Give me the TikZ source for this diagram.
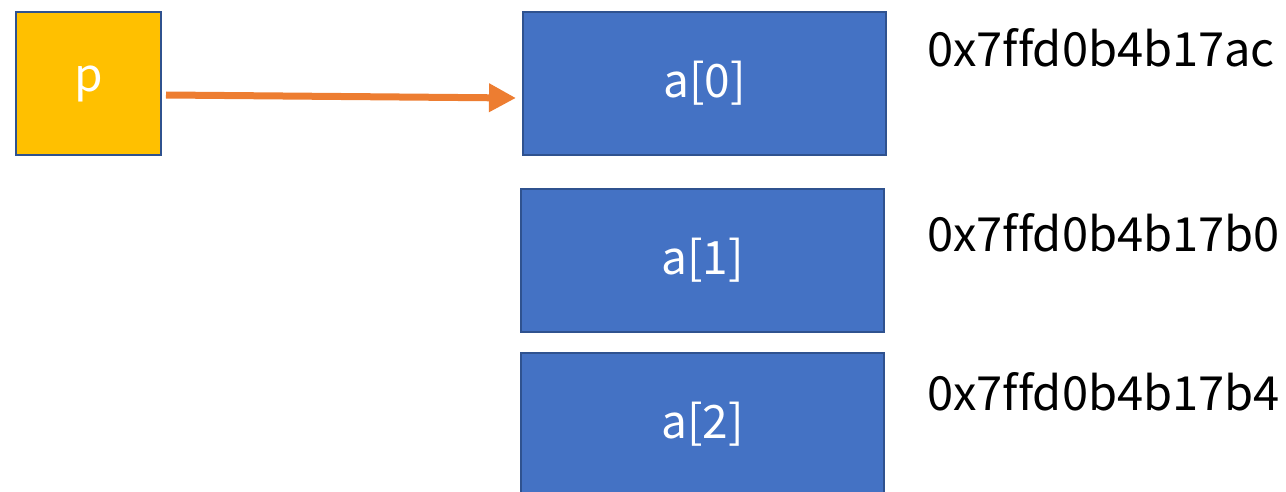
\documentclass[tikz,border=0pt]{standalone}
\usepackage{fontspec}
\setmainfont[Ligatures=NoCommon]{Noto Sans CJK JP}
\usetikzlibrary{arrows.meta}
\definecolor{cellblue}{HTML}{4472C4}
\definecolor{edgeblue}{HTML}{2F528F}
\definecolor{ptrgold}{HTML}{FFC000}
\definecolor{ptrorange}{HTML}{ED7D31}
\tikzset{
  cell/.style={draw=edgeblue, line width=2pt, fill=cellblue, text=white,
    minimum width=363pt, minimum height=143pt, inner sep=0pt,
    font=\fontsize{46}{46}\selectfont},
  ptrbox/.style={draw=edgeblue, line width=2pt, fill=ptrgold, text=white,
    minimum width=145pt, minimum height=143pt, inner sep=0pt,
    font=\fontsize{46}{46}\selectfont},
  addr/.style={anchor=west, inner sep=0pt, text=black,
    font=\fontsize{47}{47}\selectfont},
  ptr/.style={draw=ptrorange, line width=7pt,
    -{Triangle[length=27pt, width=27pt]}}
}
\begin{document}
\begin{tikzpicture}[x=1pt, y=-1pt]
  \useasboundingbox (0,0) rectangle (1286,492);
  % pointer variable
  \node[ptrbox] (p) at (88.5,83.5) {p};
  % array cells
  \node[cell] (a0) at (704.5,83.5) {a[0]};
  \node[cell] (a1) at (702.5,260.5) {a[1]};
  \node[cell] (a2) at (702.5,424.5) {a[2]};
  % addresses
  \node[addr] (ad0) at (927,48) {0x7ffd0b4b17ac};
  \node[addr] (ad1) at (927,233) {0x7ffd0b4b17b0};
  \node[addr] (ad2) at (927,392) {0x7ffd0b4b17b4};
  % pointer arrow
  \coordinate (pstart) at ([xshift=4pt, yshift=-11.5pt]p.east);
  \coordinate (ptip) at ([xshift=-6pt, yshift=-14.5pt]a0.west);
  \draw[ptr] (pstart) -- (ptip);
\end{tikzpicture}
\end{document}
